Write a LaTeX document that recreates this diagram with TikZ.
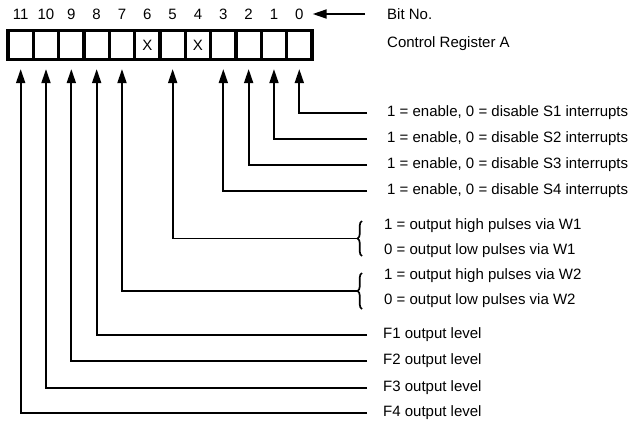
\documentclass[tikz,border=0pt]{standalone}
\usepackage{fontspec}
\setmainfont{Liberation Sans}
\usetikzlibrary{arrows.meta,decorations.pathreplacing}
\begin{document}
\begin{tikzpicture}[x=1pt,y=-1pt,
  cell/.style={draw,line width=3.2pt,minimum width=25.33pt,minimum height=29pt,inner sep=0pt},
  bitlbl/.style={font=\fontsize{15}{15}\selectfont,inner sep=0pt},
  lbl/.style={anchor=west,font=\fontsize{15}{15}\selectfont,inner sep=0pt},
  arr/.style={line width=1.8pt,-{Triangle[length=14pt,width=9pt]}},
  conn/.style={arr,shorten >=8pt},
  brc/.style={line width=1.7pt,decorate,decoration={brace,amplitude=4.5pt}}]
\useasboundingbox (0,0) rectangle (630,424);
% register cells and bit numbers
\foreach \i in {0,...,11}{
  \node[cell] (c\i) at ({299.3-25.33*\i},45) {};
  \node[bitlbl] (b\i) at ({299.3-25.33*\i},14) {\i};
}
\node[bitlbl] (x6) at (c6) {X};
\node[bitlbl] (x4) at (c4) {X};
% headings
\node[lbl] (bitno) at (387,14) {Bit No.};
\node[lbl] (cra) at (387,44) {Control Register A};
\draw[arr,shorten <=22pt,shorten >=9pt] (bitno.west) -- (b0.east);
% interrupt enables
\foreach \i/\y in {0/113,1/139,2/165,3/191}{
  \pgfmathtruncatemacro{\s}{\i+1}
  \node[lbl] (s\i) at (387,\y) {1 = enable, 0 = disable S\s\ interrupts};
  \draw[conn] ([xshift=-20pt]s\i.west) -| (c\i.south);
}
% pulse outputs
\node[lbl] (w1h) at (384,226) {1 = output high pulses via W1};
\node[lbl] (w1l) at (384,251) {0 = output low pulses via W1};
\node[lbl] (w2h) at (384,276) {1 = output high pulses via W2};
\node[lbl] (w2l) at (384,301) {0 = output low pulses via W2};
\coordinate (br1a) at (362,256);
\coordinate (br1b) at (362,221);
\coordinate (br2a) at (362,309);
\coordinate (br2b) at (362,273);
\draw[brc] (br1a) -- (br1b);
\draw[brc] (br2a) -- (br2b);
\coordinate (k5) at (357,238.5);
\coordinate (k7) at (357,291);
\draw[conn] (k5) -| (c5.south);
\draw[conn] (k7) -| (c7.south);
% F outputs
\foreach \i/\n/\y in {8/1/335,9/2/361,10/3/388,11/4/413}{
  \node[lbl] (f\n) at (383,\y) {F\n\ output level};
  \draw[conn] ([xshift=-16pt]f\n.west) -| (c\i.south);
}
\end{tikzpicture}
\end{document}
